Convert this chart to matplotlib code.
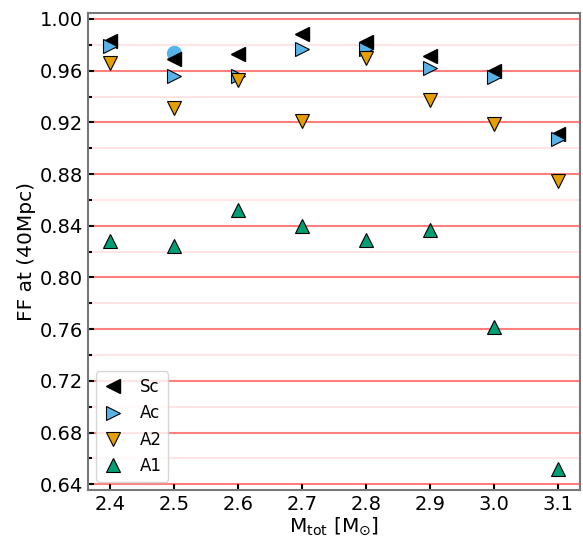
import matplotlib
matplotlib.use("Agg")
import matplotlib.pyplot as plt
from matplotlib.ticker import MultipleLocator

# total mass values
m_tot = [2.4, 2.5, 2.6, 2.7, 2.8, 2.9, 3.0, 3.1]

# fitting factor at 40 Mpc for each waveform
ff_sc = [0.983, 0.969, 0.973, 0.988, 0.982, 0.971, 0.960, 0.911]
ff_ac = [0.979, 0.956, 0.956, 0.977, 0.977, 0.962, 0.955, 0.907]
ff_a2 = [0.966, 0.931, 0.953, 0.921, 0.970, 0.937, 0.919, 0.875]
ff_a1 = [0.828, 0.824, 0.852, 0.840, 0.829, 0.837, 0.762, 0.652]

# single extra point
extra_x = [2.5]
extra_y = [0.974]

fig = plt.figure(figsize=(5.83, 5.37), dpi=100)
ax = fig.add_axes([0.151, 0.0875, 0.844, 0.888])

ax.plot(extra_x, extra_y, "o", color="#56B4E9", markersize=10, zorder=2)
ax.plot(m_tot, ff_sc, "<", color="black", mec="black", markersize=10, ls="none", label="Sc", zorder=3)
ax.plot(m_tot, ff_ac, ">", color="#56B4E9", mec="black", mew=0.8, markersize=10, ls="none", label="Ac", zorder=3)
ax.plot(m_tot, ff_a2, "v", color="#E69F00", mec="black", mew=0.8, markersize=10, ls="none", label="A2", zorder=3)
ax.plot(m_tot, ff_a1, "^", color="#009E73", mec="black", mew=0.8, markersize=10, ls="none", label="A1", zorder=3)

ax.set_ylim(0.6355, 1.0045)
ax.yaxis.set_minor_locator(MultipleLocator(0.02))
ax.set_xticks(m_tot)
yt = [0.64, 0.68, 0.72, 0.76, 0.80, 0.84, 0.88, 0.92, 0.96, 1.00]
ax.set_yticks(yt)
ax.set_yticklabels(["%.2f" % v for v in yt])

ax.grid(which="major", axis="y", color="red", alpha=0.5, lw=1.5, zorder=0)
ax.grid(which="minor", axis="y", color="red", alpha=0.1, lw=1.5, zorder=0)
ax.set_axisbelow(True)

ax.tick_params(which="both", direction="in", labelsize=14, width=1.5)
ax.tick_params(which="major", length=4)
ax.tick_params(which="minor", length=3)
for s in ax.spines.values():
    s.set_color("#777777")
    s.set_linewidth(1.5)

ax.set_xlabel(r"$\mathrm{M_{tot}}$ [$\mathrm{M_{\odot}}$]", fontsize=14.5, labelpad=1)
ax.set_ylabel("FF at (40Mpc)", fontsize=14.5, labelpad=3)

ax.legend(loc="lower left", fontsize=12, handlelength=1.2, handletextpad=1.0)

fig.savefig("out.png", dpi=100)
